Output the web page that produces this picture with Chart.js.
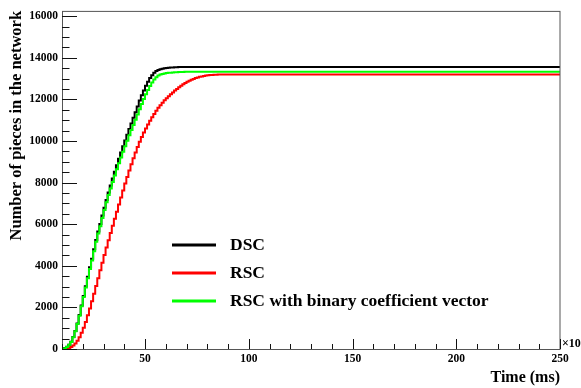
<!DOCTYPE html>
<html><head><meta charset="utf-8">
<script src="https://cdn.jsdelivr.net/npm/chart.js@4/dist/chart.umd.min.js"></script>
<style>html,body{margin:0;padding:0;background:#fff;}#wrap{width:581px;height:388px;position:relative;}</style>
</head><body><div id="wrap"><canvas id="c" width="581" height="388"></canvas></div>
<script>
// time bins (x10 ms)
const timeBins = [10,11,12,13,14,15,16,17,18,19,
  20,21,22,23,24,25,26,27,28,29,
  30,31,32,33,34,35,36,37,38,39,
  40,41,42,43,44,45,46,47,48,49,
  50,51,52,53,54,55,56,57,58,59,
  60,61,62,63,64,65,66,67,68,69,
  70,71,72,73,74,75,76,77,78,79,
  80,81,82,83,84,85,86,87,88,89,
  90,250];
const dscValues = [0,12,45,105,210,350,575,870,1225,1630,
  2090,2550,3010,3470,3930,4340,4790,5240,5650,6010,
  6420,6790,7160,7520,7860,8200,8520,8830,9140,9440,
  9740,10020,10300,10570,10840,11110,11380,11650,11940,12190,
  12430,12650,12850,13020,13160,13280,13360,13410,13445,13470,
  13490,13505,13515,13525,13535,13540,13545,13548,13550,13550,
  13550,13550,13550,13550,13550,13550,13550,13550,13550,13550,
  13550,13550,13550,13550,13550,13550,13550,13550,13550,13550,
  13550,13550];
const rscValues = [0,0,5,20,50,100,170,270,400,570,
  780,1020,1300,1620,1950,2300,2660,3030,3400,3780,
  4150,4520,4880,5230,5580,5920,6260,6600,6940,7280,
  7620,7950,8270,8580,8880,9170,9450,9710,9960,10190,
  10400,10600,10790,10970,11140,11300,11450,11590,11720,11840,
  11950,12050,12150,12240,12330,12420,12500,12580,12650,12720,
  12780,12840,12890,12940,12980,13020,13050,13080,13100,13120,
  13140,13155,13165,13175,13180,13185,13190,13190,13190,13190,
  13190,13190];
const rscBinaryValues = [0,10,40,100,200,340,560,850,1200,1600,
  2050,2500,2950,3400,3850,4250,4700,5150,5550,5900,
  6300,6680,7050,7400,7720,8030,8340,8640,8930,9210,
  9480,9750,10010,10270,10520,10770,11020,11270,11520,11770,
  12010,12240,12450,12640,12810,12950,13060,13140,13190,13220,
  13245,13260,13272,13282,13290,13298,13304,13309,13314,13318,
  13320,13320,13320,13320,13320,13320,13320,13320,13320,13320,
  13320,13320,13320,13320,13320,13320,13320,13320,13320,13320,
  13320,13320];
const seriesLabels = ['DSC', 'RSC', 'RSC with binary coefficient vector'];
const xTickValues = [50, 100, 150, 200, 250];
const yTickValues = [0, 2000, 4000, 6000, 8000, 10000, 12000, 14000, 16000];
const xMinorStep = 10;
const yMinorStep = 500;

const SERIF = "'Liberation Serif', 'Times New Roman', serif";
function pts(vals){ return timeBins.map((t,i)=>({x:t, y:vals[i]})); }

const framePlugin = {
  id: 'rootFrame',
  afterDatasetsDraw(chart) {
    const {ctx, chartArea: a, scales: {x, y}} = chart;
    ctx.save();
    ctx.strokeStyle = '#555';
    ctx.lineWidth = 1;
    ctx.strokeRect(a.left + 0.5, a.top + 0.5, a.right - a.left - 0.5, a.bottom - a.top);
    ctx.strokeStyle = '#111';
    ctx.beginPath();
    for (let v = x.min; v <= x.max + 1e-9; v += xMinorStep) {
      const px = Math.round(x.getPixelForValue(v)) + 0.5;
      const len = xTickValues.includes(v) ? 10 : 5;
      ctx.moveTo(px, a.bottom); ctx.lineTo(px, a.bottom - len);
    }
    for (let v = 0; v <= y.max; v += yMinorStep) {
      const py = Math.round(y.getPixelForValue(v)) + 0.5;
      const len = yTickValues.includes(v) ? 15 : 7.5;
      ctx.moveTo(a.left, py); ctx.lineTo(a.left + len, py);
    }
    ctx.stroke();
    const o = chart.options.plugins.rootFrame;
    ctx.font = 'bold ' + o.legendFont + 'px ' + SERIF;
    ctx.textBaseline = 'middle';
    ctx.textAlign = 'left';
    chart.data.datasets.forEach((ds, i) => {
      const ly = o.legendY + i * o.legendGap;
      ctx.strokeStyle = ds.borderColor;
      ctx.lineWidth = 3;
      ctx.beginPath(); ctx.moveTo(o.legendX1, ly); ctx.lineTo(o.legendX2, ly); ctx.stroke();
      ctx.fillStyle = '#000';
      ctx.fillText(ds.label, o.legendTextX, ly);
    });
    ctx.font = 'bold 12px ' + SERIF;
    ctx.textBaseline = 'middle';
    ctx.fillText('\u00d710', a.right + 2, a.bottom - 5);
    ctx.restore();
  }
};

new Chart(document.getElementById('c'), {
  type: 'line',
  data: {
    datasets: [
      {label: seriesLabels[0], data: pts(dscValues), borderColor: '#000000', order: 1},
      {label: seriesLabels[1], data: pts(rscValues), borderColor: '#ff0000', order: 2},
      {label: seriesLabels[2], data: pts(rscBinaryValues), borderColor: '#00ff00', order: 0}
    ].map(d => Object.assign(d, {borderWidth: 2, pointRadius: 0, stepped: 'after', fill: false}))
  },
  options: {
    responsive: false, animation: false, devicePixelRatio: 1,
    layout: {padding: {top: 8, right: 21, left: 0, bottom: 0}},
    plugins: {
      legend: {display: false}, tooltip: {enabled: false},
      rootFrame: {legendX1: 172, legendX2: 216, legendTextX: 230, legendY: 245, legendGap: 28, legendFont: 17.5}
    },
    scales: {
      x: {
        type: 'linear', min: 10, max: 250,
        afterBuildTicks: s => { s.ticks = xTickValues.map(v => ({value: v})); },
        afterFit: s => { s.height = 39; },
        grid: {display: false, drawTicks: false}, border: {display: false},
        ticks: {color: '#000', padding: 3, maxRotation: 0, autoSkip: false, callback: v => String(v), font: {family: SERIF, weight: 'bold', size: 11.5}},
        title: {display: true, text: 'Time (ms)', align: 'end', color: '#000', padding: {top: 0, bottom: 1}, font: {family: SERIF, weight: 'bold', size: 16}}
      },
      y: {
        min: 0, max: 16250,
        afterBuildTicks: s => { s.ticks = yTickValues.map(v => ({value: v})); },
        afterFit: s => { s.width = 62; },
        grid: {display: false, drawTicks: false}, border: {display: false},
        ticks: {color: '#000', padding: 4, autoSkip: false, callback: v => String(v), font: {family: SERIF, weight: 'bold', size: 11.5}},
        title: {display: true, text: 'Number of pieces in the network', align: 'end', color: '#000', padding: {top: 7, bottom: 0}, font: {family: SERIF, weight: 'bold', size: 16.5}}
      }
    }
  },
  plugins: [framePlugin]
});
</script></body></html>
